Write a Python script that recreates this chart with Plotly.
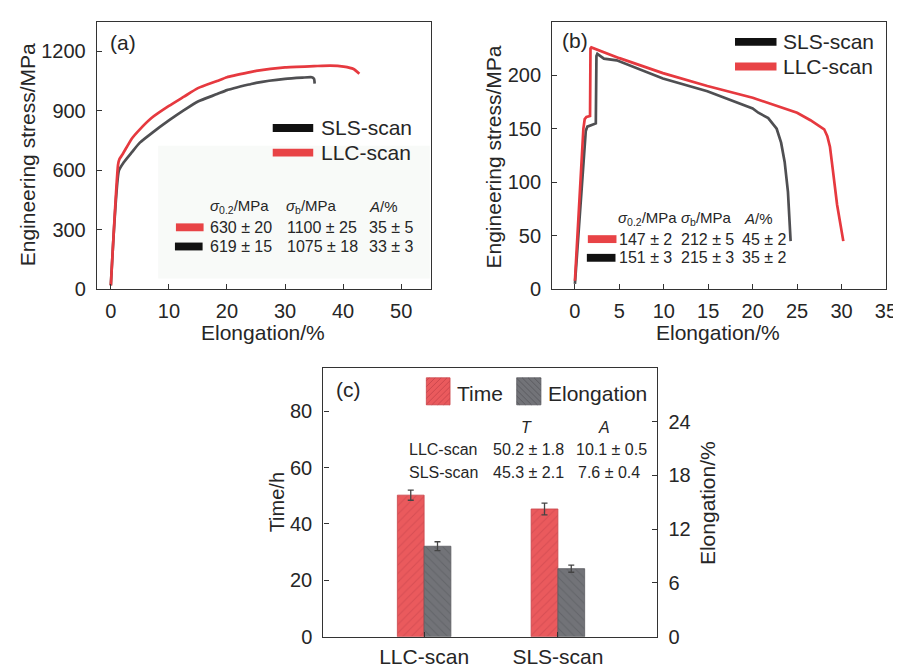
import plotly.graph_objects as go

W, H = 901, 666
FONT = "Arial, Liberation Sans, Helvetica, sans-serif"
TXT = "#262626"
AX = "#333333"
RED = "#e6393f"
GRAY = "#4f4f52"

# ---------------- Panel (a): stress-strain, room temperature ----------------
a_llc_x = [0.0, 1.25, 1.5, 2.0, 3.6, 5.0, 7.0, 10.0, 12.6, 15.0, 18.3, 20.0, 24.0, 25.0, 30.0, 35.0, 37.8, 40.1, 41.8, 42.8]
a_llc_y = [20, 630, 658, 680, 760, 807, 864, 925, 972, 1015, 1051, 1070, 1096, 1102, 1120, 1126, 1129, 1124, 1112, 1088]
a_sls_x = [0.0, 1.4, 2.2, 3.6, 5.0, 7.0, 10.0, 12.6, 15.0, 18.3, 20.0, 24.0, 25.0, 30.0, 33.0, 34.6, 35.0, 35.1]
a_sls_y = [20, 600, 640, 691, 740, 787, 852, 904, 948, 985, 1005, 1035, 1042, 1062, 1068, 1070, 1062, 1038]

# ---------------- Panel (b): stress-strain, high temperature ----------------
b_llc_x = [0.0, 0.6, 0.95, 1.1, 1.3, 1.7, 1.75, 1.85, 5.0, 9.9, 14.9, 20.0, 25.0, 26.5, 27.5, 28.05, 28.4, 28.7, 29.0, 29.5, 30.2]
b_llc_y = [8, 100, 150, 159, 161, 162, 225, 226, 216, 202, 190, 179, 165, 158, 153, 149.5, 143, 133, 113, 79, 45]
b_sls_x = [0.0, 0.85, 1.22, 1.4, 2.0, 2.35, 2.42, 2.52, 3.26, 4.7, 9.9, 14.9, 20.0, 20.64, 21.75, 22.7, 23.2, 23.6, 23.97, 24.27]
b_sls_y = [5, 110, 148, 152, 154, 155, 218, 220, 215.5, 214, 197, 185, 169, 165, 160, 150, 137, 119, 91, 45]

# ---------------- Panel (c): creep time / elongation ----------------
c_categories = ["LLC-scan", "SLS-scan"]
c_pos = [0, 1]
c_time = [50.2, 45.3]
c_time_err = [1.8, 2.1]
c_elong = [10.1, 7.6]
c_elong_err = [0.5, 0.4]

# tables
a_table_head = ["<i>σ</i><sub>0.2</sub>/MPa", "<i>σ</i><sub>b</sub>/MPa", "<i>A</i>/%"]
a_table_llc = ["630 ± 20", "1100 ± 25", "35 ± 5"]
a_table_sls = ["619 ± 15", "1075 ± 18", "33 ± 3"]
b_table_head = ["<i>σ</i><sub>0.2</sub>/MPa", "<i>σ</i><sub>b</sub>/MPa", "<i>A</i>/%"]
b_table_llc = ["147 ± 2", "212 ± 5", "45 ± 2"]
b_table_sls = ["151 ± 3", "215 ± 3", "35 ± 2"]
c_table_head = ["<i>T</i>", "<i>A</i>"]
c_table_llc = ["LLC-scan", "50.2 ± 1.8", "10.1 ± 0.5"]
c_table_sls = ["SLS-scan", "45.3 ± 2.1", "7.6 ± 0.4"]


def px(x):
    return x / W


def py(y):
    return 1 - y / H


fig = go.Figure()

fig.add_trace(go.Scatter(x=a_sls_x, y=a_sls_y, xaxis="x", yaxis="y", mode="lines",
                         line=dict(color=GRAY, width=2.7, shape="spline", smoothing=0.5)))
fig.add_trace(go.Scatter(x=a_llc_x, y=a_llc_y, xaxis="x", yaxis="y", mode="lines",
                         line=dict(color=RED, width=2.7, shape="spline", smoothing=0.5)))
fig.add_trace(go.Scatter(x=b_sls_x, y=b_sls_y, xaxis="x2", yaxis="y2", mode="lines",
                         line=dict(color=GRAY, width=2.7)))
fig.add_trace(go.Scatter(x=b_llc_x, y=b_llc_y, xaxis="x2", yaxis="y2", mode="lines",
                         line=dict(color=RED, width=2.7)))

TIME_BG, TIME_FG = "#ea5a5d", "#c4424a"
EL_BG, EL_FG = "#727378", "#55565b"

fig.add_trace(go.Bar(x=c_pos, y=c_time, xaxis="x3", yaxis="y3", offset=-0.2, width=0.2,
                     marker=dict(color=TIME_BG, line=dict(color="#c8454a", width=0.8),
                                 pattern=dict(shape="/", fgcolor=TIME_FG, size=6, solidity=0.18,
                                              fillmode="overlay")),
                     error_y=dict(type="data", array=c_time_err, color="#444", thickness=1.3, width=3)))
fig.add_trace(go.Bar(x=c_pos, y=c_elong, xaxis="x3", yaxis="y4", offset=0.0, width=0.2,
                     marker=dict(color=EL_BG, line=dict(color="#5a5b5f", width=0.8),
                                 pattern=dict(shape="\\", fgcolor=EL_FG, size=6, solidity=0.18,
                                              fillmode="overlay")),
                     error_y=dict(type="data", array=c_elong_err, color="#444", thickness=1.3, width=3)))


def ax(**kw):
    d = dict(showline=True, linecolor=AX, linewidth=1.3, ticks="inside", ticklen=5, tickwidth=1.2,
             tickcolor=AX, showgrid=False, zeroline=False,
             tickfont=dict(family=FONT, size=20, color=TXT))
    d.update(kw)
    return d


yA = [1 - 286 / H, 1 - 14 / H]
yC = [1 - 639.3 / H, 1 - 366 / H]

fig.update_layout(
    width=W, height=H, margin=dict(l=0, r=0, t=0, b=0),
    paper_bgcolor="white", plot_bgcolor="white", showlegend=False,
    font=dict(family=FONT, color=TXT),
    xaxis=ax(domain=[px(90), px(428)], range=[-2.4, 55.1], tickvals=[0, 10, 20, 30, 40, 50],
             mirror=True, anchor="y", ticklabelstandoff=4),
    yaxis=ax(domain=yA, range=[0, 1350], tickvals=[0, 300, 600, 900, 1200], mirror=True,
             anchor="x", ticklabelstandoff=6),
    xaxis2=ax(domain=[px(551), px(889)], range=[-2.55, 35.02], tickvals=[0, 5, 10, 15, 20, 25, 30, 35],
              mirror=True, anchor="y2", ticklabelstandoff=4),
    yaxis2=ax(domain=yA, range=[0, 250], tickvals=[0, 50, 100, 150, 200], mirror=True,
              anchor="x2", ticklabelstandoff=6),
    xaxis3=ax(domain=[px(319.3), px(657.3)], range=[-0.753, 1.743], tickvals=c_pos,
              ticktext=c_categories, mirror=True, anchor="y3", ticklabelstandoff=1,
              tickfont=dict(family=FONT, size=21, color=TXT)),
    yaxis3=ax(domain=yC, range=[0, 95.3], tickvals=[0, 20, 40, 60, 80], anchor="x3",
              ticklabelstandoff=6),
    yaxis4=ax(domain=yC, range=[0, 30.0], tickvals=[0, 6, 12, 18, 24], anchor="x3",
              overlaying="y3", side="right", ticklabelstandoff=6),
)

ann = []


def text(s, x, y, size, xanchor="left", angle=0):
    ann.append(dict(text=s, x=px(x), y=py(y), xref="paper", yref="paper", showarrow=False,
                    xanchor=xanchor, yanchor="middle", textangle=angle,
                    font=dict(family=FONT, size=size, color=TXT)))


shapes = []


def rect(x0, y0, x1, y1, color, line=None, layer="above"):
    shapes.append(dict(type="rect", xref="paper", yref="paper", x0=px(x0), x1=px(x1),
                       y0=py(y1), y1=py(y0), fillcolor=color, layer=layer,
                       line=dict(width=0) if line is None else line))


# faint table background in (a)
rect(152, 140, 427, 275, "#f8faf8", layer="below")

# panel labels
text("(a)", 101, 35, 21)
text("(b)", 559, 33, 21)
text("(c)", 330, 388, 21)

# axis titles
text("Engineering stress/MPa", 20, 149, 21, "center", -90)
text("Elongation/%", 258, 330, 21, "center")
text("Engineering stress/MPa", 491, 152, 21, "center", -90)
text("Elongation/%", 719, 330, 21, "center")
text("Time/h", 272, 503, 20, "center", -90)
text("Elongation/%", 708, 503, 21, "center", -90)

# legend (a)
rect(268, 118, 309, 126, "#111111")
text("SLS-scan", 315, 122, 21)
rect(268, 143, 309, 151, "#e84346")
text("LLC-scan", 315, 147, 21)

# table (a)
for s, x in zip(a_table_head, [202, 279, 363]):
    text(s, x, 202, 15)
rect(170, 219, 198, 227, "#e84346")
rect(169, 238.5, 197, 246.5, "#111111")
for s, x in zip(a_table_llc, [202, 280, 363]):
    text(s, x, 223, 16)
for s, x in zip(a_table_sls, [202, 280, 363]):
    text(s, x, 243, 16)

# legend (b)
rect(736, 30.5, 778, 38.5, "#111111")
text("SLS-scan", 783, 34, 21)
rect(736, 55.5, 778, 63.5, "#e84346")
text("LLC-scan", 783, 59, 21)

# table (b)
for s, x in zip(b_table_head, [616, 679, 743]):
    text(s, x, 214, 15)
rect(587, 231, 616, 239, "#e84346")
rect(586, 250, 615, 258, "#111111")
for s, x in zip(b_table_llc, [617, 679, 741]):
    text(s, x, 235, 16)
for s, x in zip(b_table_sls, [617, 679, 741]):
    text(s, x, 254, 16)


# legend (c) with hatched swatches
def hatch_path(x0, y0, x1, y1, step, direction):
    segs = []
    if direction == "/":
        c = x0 + y0 + step / 2
        while c < x1 + y1:
            xa, xb = max(x0, c - y1), min(x1, c - y0)
            if xb > xa:
                segs.append((xa, c - xa, xb, c - xb))
            c += step
    else:
        c = x0 - y1 + step / 2
        while c < x1 - y0:
            xa, xb = max(x0, c + y0), min(x1, c + y1)
            if xb > xa:
                segs.append((xa, xa - c, xb, xb - c))
            c += step
    return " ".join(f"M{px(a):.5f},{py(b):.5f} L{px(cc):.5f},{py(d):.5f}" for a, b, cc, d in segs)


rect(423.5, 376, 447.5, 403.5, TIME_BG, line=dict(color="#c8454a", width=0.8))
shapes.append(dict(type="path", xref="paper", yref="paper",
                   path=hatch_path(423.5, 376, 447.5, 403.5, 6, "/"),
                   line=dict(color=TIME_FG, width=0.8)))
text("Time", 453, 392, 21)
rect(515, 376, 539.5, 403.5, EL_BG, line=dict(color="#5a5b5f", width=0.8))
shapes.append(dict(type="path", xref="paper", yref="paper",
                   path=hatch_path(515, 376, 539.5, 403.5, 6, "\\"),
                   line=dict(color=EL_FG, width=0.8)))
text("Elongation", 545, 392, 21)

# table (c)
text(c_table_head[0], 524.5, 427, 16, "center")
text(c_table_head[1], 603, 427, 16, "center")
for s, x in zip(c_table_llc, [404, 489, 573]):
    text(s, x, 449, 16)
for s, x in zip(c_table_sls, [404, 489, 575]):
    text(s, x, 472, 16)

fig.update_layout(annotations=ann, shapes=shapes)
fig.write_html("out.html")
